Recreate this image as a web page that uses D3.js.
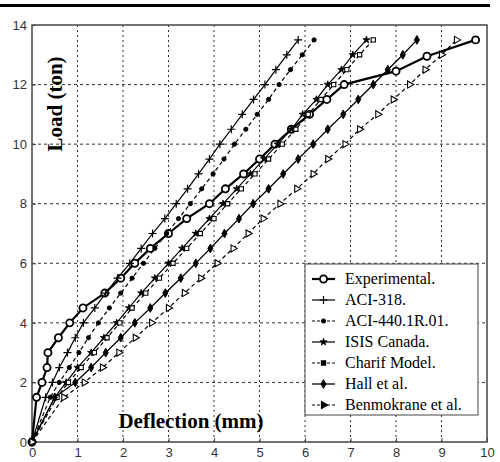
<!DOCTYPE html>
<html>
<head>
<meta charset="utf-8">
<script src="https://cdn.jsdelivr.net/npm/d3@7"></script>
<style>
  html, body { margin: 0; padding: 0; background: #fff; }
  svg { display: block; }
</style>
</head>
<body>
<svg id="chart" width="500" height="462"></svg>
<script>
// deflection (mm), load (ton) pairs
const experimental = [[0,0],[0.1,1.5],[0.22,2],[0.33,2.5],[0.35,3],[0.58,3.5],[0.83,4],[1.12,4.5],[1.6,5],[1.95,5.5],[2.26,6],[2.6,6.5],[3.0,7],[3.4,7.5],[3.9,8],[4.25,8.5],[4.65,9],[5.0,9.5],[5.34,10],[5.7,10.5],[6.1,11],[6.48,11.5],[6.86,12],[8.0,12.45],[8.68,12.95],[9.75,13.5]];
const aci318 = [[0,0],[0.3,1.5],[0.45,2],[0.6,2.5],[0.78,3],[0.95,3.5],[1.13,4],[1.38,4.5],[1.62,5],[1.88,5.5],[2.15,6],[2.4,6.5],[2.65,7],[2.92,7.5],[3.17,8],[3.42,8.5],[3.66,9],[3.9,9.5],[4.13,10],[4.38,10.5],[4.62,11],[4.87,11.5],[5.12,12],[5.36,12.5],[5.6,13],[5.85,13.5]];
const aci440 = [[0,0],[0.4,1.5],[0.6,2],[0.82,2.5],[1.03,3],[1.24,3.5],[1.46,4],[1.7,4.5],[1.95,5],[2.2,5.5],[2.45,6],[2.7,6.5],[2.96,7],[3.22,7.5],[3.48,8],[3.73,8.5],[3.98,9],[4.22,9.5],[4.45,10],[4.7,10.5],[4.95,11],[5.2,11.5],[5.43,12],[5.68,12.5],[5.94,13],[6.2,13.5]];
const isis = [[0,0],[0.5,1.5],[0.75,2],[1.0,2.5],[1.3,3],[1.58,3.5],[1.86,4],[2.13,4.5],[2.4,5],[2.7,5.5],[3.0,6],[3.3,6.5],[3.6,7],[3.9,7.5],[4.2,8],[4.5,8.5],[4.8,9],[5.1,9.5],[5.4,10],[5.7,10.5],[5.95,11],[6.25,11.5],[6.5,12],[6.8,12.5],[7.05,13],[7.35,13.5]];
const charif = [[0,0],[0.55,1.5],[0.8,2],[1.08,2.5],[1.37,3],[1.65,3.5],[1.93,4],[2.2,4.5],[2.5,5],[2.8,5.5],[3.1,6],[3.4,6.5],[3.7,7],[4.0,7.5],[4.3,8],[4.6,8.5],[4.9,9],[5.2,9.5],[5.5,10],[5.8,10.5],[6.07,11],[6.35,11.5],[6.63,12],[6.92,12.5],[7.2,13],[7.5,13.5]];
const hall = [[0,0],[0.5,1.5],[0.95,2],[1.3,2.5],[1.62,3],[1.95,3.5],[2.26,4],[2.6,4.5],[2.93,5],[3.27,5.5],[3.6,6],[3.92,6.5],[4.23,7],[4.55,7.5],[4.86,8],[5.2,8.5],[5.52,9],[5.85,9.5],[6.18,10],[6.5,10.5],[6.84,11],[7.17,11.5],[7.5,12],[7.82,12.5],[8.15,13],[8.46,13.5]];
const benmokrane = [[0,0],[0.7,1.5],[1.15,2],[1.55,2.5],[1.91,3],[2.27,3.5],[2.63,4],[3.0,4.5],[3.35,5],[3.71,5.5],[4.07,6],[4.42,6.5],[4.75,7],[5.08,7.5],[5.45,8],[5.82,8.5],[6.18,9],[6.5,9.5],[6.88,10],[7.2,10.5],[7.6,11],[7.94,11.5],[8.3,12],[8.64,12.5],[9.0,13],[9.33,13.5]];

const seriesNames = ['Experimental.', 'ACI-318.', 'ACI-440.1R.01.', 'ISIS Canada.', 'Charif Model.', 'Hall et al.', 'Benmokrane et al.'];
const seriesData  = [experimental, aci318, aci440, isis, charif, hall, benmokrane];
const xTicks = [0,1,2,3,4,5,6,7,8,9,10];
const yTicks = [0,2,4,6,8,10,12,14];

// plain "+" made of two strokes
const plus = {
    draw(ctx, size) {
        const r = Math.sqrt(size) / 2;
        ctx.moveTo(-r, 0); ctx.lineTo(r, 0);
        ctx.moveTo(0, -r); ctx.lineTo(0, r);
    }
};

const styles = [
    { dash: null,  width: 2.2, sym: d3.symbolCircle,   size: 40, fill: '#fff', sw: 1.8 },
    { dash: null,  width: 1.2, sym: plus,              size: 64, fill: 'none', sw: 1.2 },
    { dash: '4,3', width: 1.2, sym: d3.symbolCircle,   size: 14, fill: '#000', sw: 1 },
    { dash: null,  width: 1.2, sym: d3.symbolStar,     size: 16, fill: '#000', sw: 0.8 },
    { dash: '4,3', width: 1.2, sym: d3.symbolSquare,   size: 18, fill: '#fff', sw: 1.1 },
    { dash: null,  width: 1.3, sym: d3.symbolDiamond,  size: 22, fill: '#000', sw: 1 },
    { dash: '4,3', width: 1.2, sym: d3.symbolTriangle, size: 22, fill: '#fff', sw: 1.1, rot: 90 }
];

const svg = d3.select('#chart');
const L = 32, R = 487, T = 25, B = 442;
const x = d3.scaleLinear().domain([0, 10]).range([L, R]);
const y = d3.scaleLinear().domain([0, 14]).range([B, T]);

// top rule
svg.append('line').attr('x1', 0).attr('x2', 490).attr('y1', 5.5).attr('y2', 5.5)
    .attr('stroke', '#000').attr('stroke-width', 3);

// grid
const g = svg.append('g');
g.selectAll('.gx').data(xTicks.slice(1, -1)).join('line')
    .attr('x1', d => x(d)).attr('x2', d => x(d)).attr('y1', T).attr('y2', B)
    .attr('stroke', '#333').attr('stroke-width', 1).attr('stroke-dasharray', '2,3');
g.selectAll('.gy').data(yTicks.slice(1, -1)).join('line')
    .attr('x1', L).attr('x2', R).attr('y1', d => y(d)).attr('y2', d => y(d))
    .attr('stroke', '#333').attr('stroke-width', 1).attr('stroke-dasharray', '3,3');

// axes
const ax = svg.append('g').attr('transform', `translate(0,${B})`)
    .call(d3.axisBottom(x).tickValues(xTicks).tickSize(-4).tickPadding(6));
const ay = svg.append('g').attr('transform', `translate(${L},0)`)
    .call(d3.axisLeft(y).tickValues(yTicks).tickSize(-4).tickPadding(5));
[ax, ay].forEach(a => {
    a.select('.domain').remove();
    a.selectAll('line').attr('stroke', '#444');
    a.selectAll('text').attr('font-family', 'Liberation Sans Narrow, Arial Narrow, Liberation Sans, sans-serif')
        .attr('font-size', 13).attr('fill', '#333');
});
svg.append('rect').attr('x', L).attr('y', T).attr('width', R - L).attr('height', B - T)
    .attr('fill', 'none').attr('stroke', '#444').attr('stroke-width', 1.5);

// curves
const line = d3.line().x(d => x(d[0])).y(d => y(d[1]));
const curves = svg.append('g');
seriesData.forEach((data, i) => {
    const s = styles[i];
    curves.append('path').datum(data).attr('d', line)
        .attr('fill', 'none').attr('stroke', '#000').attr('stroke-width', s.width)
        .attr('stroke-dasharray', s.dash);
    curves.selectAll('.m' + i).data(data).join('path')
        .attr('class', 'm' + i)
        .attr('transform', d => `translate(${x(d[0])},${y(d[1])}) rotate(${s.rot || 0})`)
        .attr('d', d3.symbol(s.sym, s.size))
        .attr('fill', s.fill).attr('stroke', '#000').attr('stroke-width', s.sw);
});

// axis titles
svg.append('text').attr('transform', `translate(62,104) rotate(-90)`)
    .attr('text-anchor', 'middle')
    .attr('font-family', 'Liberation Serif, Times New Roman, serif').attr('font-weight', 'bold')
    .attr('font-size', 21).text('Load (ton)');
svg.append('text').attr('x', 191).attr('y', 428).attr('text-anchor', 'middle')
    .attr('font-family', 'Liberation Serif, Times New Roman, serif').attr('font-weight', 'bold')
    .attr('font-size', 21).text('Deflection (mm)');

// legend
const lg = svg.append('g');
lg.append('rect').attr('x', 305).attr('y', 264).attr('width', 173).attr('height', 151)
    .attr('fill', '#fff').attr('stroke', '#444').attr('stroke-width', 1);
seriesNames.forEach((name, i) => {
    const s = styles[i];
    const yy = 279 + i * 21;
    lg.append('line').attr('x1', 312).attr('x2', 335).attr('y1', yy).attr('y2', yy)
        .attr('stroke', '#000').attr('stroke-width', s.width).attr('stroke-dasharray', s.dash ? '3,2' : null);
    lg.append('path').attr('transform', `translate(323.5,${yy}) rotate(${s.rot || 0})`)
        .attr('d', d3.symbol(s.sym, s.size))
        .attr('fill', i === 0 ? '#fff' : '#000').attr('stroke', '#000').attr('stroke-width', s.sw);
    lg.append('text').attr('x', 345).attr('y', yy + 5)
        .attr('font-family', 'Liberation Serif, Times New Roman, serif')
        .attr('font-size', 16).text(name);
});
</script>
</body>
</html>
